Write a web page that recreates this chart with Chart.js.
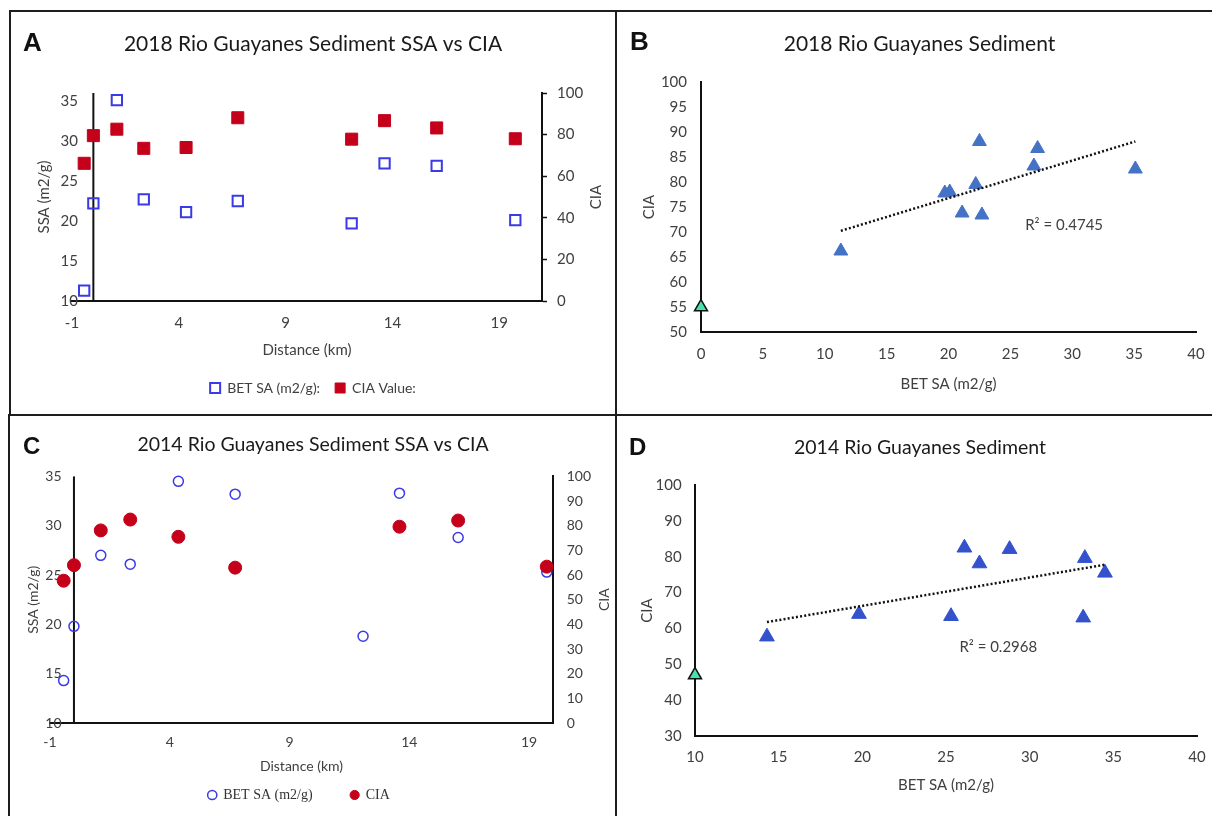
<!DOCTYPE html>
<html>
<head>
<meta charset="utf-8">
<title>Rio Guayanes Sediment SSA vs CIA</title>
<script src="https://cdn.jsdelivr.net/npm/chart.js@4.4.1/dist/chart.umd.min.js"></script>
<style>
  html, body { margin: 0; padding: 0; background: #fff; overflow: hidden; }
  body { width: 1212px; height: 816px; position: relative; }
  .panel { position: absolute; box-sizing: border-box; border: 2px solid #1e1e1e; overflow: hidden; background: #fff; }
  .panel canvas { position: absolute; left: 0; top: 0; }
  .tag { position: absolute; font-family: "Liberation Sans", Arial, sans-serif; font-weight: bold; color: #111; }
</style>
</head>
<body>

<div class="panel" style="left:9px;top:10px;width:608px;height:406px">
  <canvas id="chartA" width="604" height="402"></canvas>
  <div class="tag" style="left:12px;top:17px;font-size:26px;line-height:26px">A</div>
</div>
<div class="panel" style="left:615px;top:10px;width:609px;height:406px">
  <canvas id="chartB" width="605" height="402"></canvas>
  <div class="tag" style="left:13px;top:16px;font-size:26px;line-height:26px">B</div>
</div>
<div class="panel" style="left:8px;top:414px;width:610px;height:404px">
  <canvas id="chartC" width="606" height="400"></canvas>
  <div class="tag" style="left:13px;top:18px;font-size:24px;line-height:24px">C</div>
</div>
<div class="panel" style="left:615px;top:414px;width:610px;height:404px">
  <canvas id="chartD" width="606" height="400"></canvas>
  <div class="tag" style="left:12px;top:19px;font-size:24px;line-height:24px">D</div>
</div>

<script>
// 2018 samples: distance downstream (km), BET surface area (m2/g), CIA
const dist2018 = [-0.43, 0, 1.1, 2.36, 4.34, 6.76, 12.09, 13.63, 16.07, 19.75]
const ssa2018 = [11.3, 22.2, 35.1, 22.7, 21.1, 22.5, 19.7, 27.2, 26.9, 20.1]
const cia2018 = [66.2, 79.5, 82.6, 73.4, 73.8, 88.1, 77.8, 86.7, 83.2, 78.0]

// 2014 samples (no CIA for the 12 km site)
const dist2014 = [-0.43, 0, 1.12, 2.35, 4.36, 6.73, 12.07, 13.59, 16.04, 19.74]
const ssa2014 = [14.3, 19.8, 27.0, 26.1, 34.5, 33.2, 18.8, 33.3, 28.8, 25.3]
const cia2014 = [57.7, 64.0, 78.1, 82.5, 75.5, 63.0, null, 79.6, 82.1, 63.4]

// unweathered reference point (green triangle)
const refSsa2018 = [0]
const refCia2018 = [55]
const refSsa2014 = [10]
const refCia2014 = [47]

// tick labels
const distTicks = [-1, 4, 9, 14, 19]
const ssaTicks = [10, 15, 20, 25, 30, 35]
const ciaTicks = [0, 10, 20, 30, 40, 50, 60, 70, 80, 90, 100]
const betTicks2018 = [0, 5, 10, 15, 20, 25, 30, 35, 40]
const ciaTicks2018 = [50, 55, 60, 65, 70, 75, 80, 85, 90, 95, 100]
const betTicks2014 = [10, 15, 20, 25, 30, 35, 40]
const ciaTicks2014 = [30, 40, 50, 60, 70, 80, 90, 100]

const r2Label2018 = 'R² = 0.4745'
const r2Label2014 = 'R² = 0.2968'

const RED = '#C4001A'
const BLUE = '#3A3AE6'
const TRI_BLUE = '#4472C4'
const TRI_BLUE_2014 = '#3352CC'
const GREEN = '#45E2B2'
const INK = '#111'
const LABEL = '#404040'

Chart.defaults.font.family = 'Lato, "Open Sans", sans-serif'
Chart.defaults.color = LABEL

const pairs = (xs, ys) => xs.map((x, i) => ({ x: x, y: ys[i] })).filter(p => p.y != null)

// least squares line over the plotted points, from min x to max x
function trend(xs, ys) {
    const pts = pairs(xs, ys)
    const n = pts.length
    const mx = pts.reduce((s, p) => s + p.x, 0) / n
    const my = pts.reduce((s, p) => s + p.y, 0) / n
    let sxy = 0, sxx = 0
    pts.forEach(p => { sxy += (p.x - mx) * (p.y - my); sxx += (p.x - mx) * (p.x - mx) })
    const b = sxy / sxx
    const lo = Math.min(...pts.map(p => p.x))
    const hi = Math.max(...pts.map(p => p.x))
    return [{ x: lo, y: my + b * (lo - mx) }, { x: hi, y: my + b * (hi - mx) }]
}

const fixTicks = (list) => (scale) => { scale.ticks = list.map(v => ({ value: v })) }
const fitWidth = (w) => (scale) => { scale.width = w }
const fitHeight = (h) => (scale) => { scale.height = h }

// vertical axis line at x = 0, right axis title read bottom-up, R² note
const extras = {
    id: 'extras',
    beforeDatasetsDraw(chart, args, opts) {
        if (opts.zeroLine === undefined) return
        const { ctx, chartArea, scales } = chart
        const px = scales.x.getPixelForValue(opts.zeroLine)
        ctx.save()
        ctx.strokeStyle = INK
        ctx.lineWidth = 2
        ctx.beginPath()
        ctx.moveTo(px, chartArea.top)
        ctx.lineTo(px, chartArea.bottom)
        ctx.stroke()
        ctx.restore()
    },
    afterDraw(chart, args, opts) {
        const { ctx, chartArea, scales } = chart
        if (opts.rightTitle) {
            const s = scales.y1
            ctx.save()
            ctx.translate(s.right - opts.rightTitle.offset, (chartArea.top + chartArea.bottom) / 2)
            ctx.rotate(-Math.PI / 2)
            ctx.font = opts.rightTitle.size + 'px Lato'
            ctx.fillStyle = LABEL
            ctx.textAlign = 'center'
            ctx.textBaseline = 'middle'
            ctx.fillText(opts.rightTitle.text, 0, 0)
            ctx.restore()
        }
        if (opts.note) {
            const x = scales.x.getPixelForValue(opts.note.x)
            const y = scales.y.getPixelForValue(opts.note.y)
            ctx.save()
            ctx.font = '15px Lato'
            ctx.fillStyle = LABEL
            ctx.textAlign = 'left'
            ctx.textBaseline = 'middle'
            ctx.fillText(opts.note.text, x, y)
            ctx.restore()
        }
    }
}
Chart.register(extras)

const axisLine = { display: true, color: INK, width: 2 }
const noGrid = { display: false, drawTicks: false }
// empty right-hand strip so the chart area stops short of the panel edge
const rightPad = (w) => ({ type: 'linear', position: 'right', display: true, afterFit: fitWidth(w),
                           ticks: { display: false }, grid: noGrid, border: { display: false } })

// A: 2018 SSA and CIA along the river
new Chart(document.getElementById('chartA'), {
    type: 'scatter',
    data: {
        datasets: [
            { label: 'CIA Value:', data: pairs(dist2018, cia2018), yAxisID: 'y1', pointStyle: 'rect',
              pointRadius: 8.5, backgroundColor: RED, borderColor: RED, borderWidth: 1, clip: false },
            { label: 'BET SA (m2/g):', data: pairs(dist2018, ssa2018), yAxisID: 'y', pointStyle: 'rect',
              pointRadius: 7.3, backgroundColor: 'rgba(0,0,0,0)', borderColor: BLUE, borderWidth: 2, clip: false }
        ]
    },
    options: {
        responsive: false, animation: false, events: [],
        layout: { padding: { left: 0, right: 0, top: 0, bottom: 9 } },
        plugins: {
            title: { display: true, text: '2018 Rio Guayanes Sediment SSA vs CIA', color: '#1a1a1a',
                     font: { size: 21, weight: 'normal' }, padding: { top: 20, bottom: 35.8 } },
            legend: { position: 'bottom', reverse: true,
                      labels: { usePointStyle: true, boxWidth: 10, boxHeight: 10, padding: 15, font: { size: 14 } } },
            tooltip: { enabled: false },
            extras: { zeroLine: 0, rightTitle: { text: 'CIA', offset: 19, size: 15 } }
        },
        scales: {
            x: { type: 'linear', min: -1, max: 21, afterBuildTicks: fixTicks(distTicks), afterFit: fitHeight(65),
                 grid: noGrid, border: axisLine, ticks: { padding: 12.7, font: { size: 15 } },
                 title: { display: true, text: 'Distance (km)', font: { size: 15 }, padding: { top: 0, bottom: 7 } } },
            y: { position: 'left', min: 10, max: 36, afterBuildTicks: fixTicks(ssaTicks), afterFit: fitWidth(61),
                 grid: noGrid, border: { display: false },
                 ticks: { mirror: true, crossAlign: 'far', padding: -11.4, font: { size: 15 } },
                 title: { display: true, text: 'SSA (m2/g)', font: { size: 15 }, padding: { top: 24, bottom: 0 } } },
            y1: { position: 'right', min: 0, max: 100, afterBuildTicks: fixTicks(ciaTicks), afterFit: fitWidth(73),
                  grid: { display: true, drawOnChartArea: false, drawTicks: true, tickLength: 5, tickColor: INK, tickWidth: 1.5 },
                  border: axisLine, ticks: { padding: 10, font: { size: 15 } } }
        }
    }
})

// B: 2018 CIA against surface area
new Chart(document.getElementById('chartB'), {
    type: 'scatter',
    data: {
        datasets: [
            { data: trend(ssa2018, cia2018), showLine: true, pointRadius: 0, borderColor: INK, borderWidth: 2.5,
              borderDash: [2, 2.2], clip: false },
            { data: pairs(ssa2018, cia2018), pointStyle: 'triangle', pointRadius: 8,
              backgroundColor: TRI_BLUE, borderColor: TRI_BLUE, borderWidth: 1, clip: false },
            { data: pairs(refSsa2018, refCia2018), pointStyle: 'triangle', pointRadius: 7.5,
              backgroundColor: GREEN, borderColor: INK, borderWidth: 1.5, clip: false }
        ]
    },
    options: {
        responsive: false, animation: false, events: [],
        layout: { padding: 0 },
        plugins: {
            title: { display: true, text: '2018 Rio Guayanes Sediment', color: '#1a1a1a',
                     font: { size: 21, weight: 'normal' }, padding: { top: 20, bottom: 24.8 } },
            legend: { display: false },
            tooltip: { enabled: false },
            extras: { note: { text: r2Label2018, x: 26.2, y: 71.3 } }
        },
        scales: {
            x: { type: 'linear', min: 0, max: 40, afterBuildTicks: fixTicks(betTicks2018), afterFit: fitHeight(82),
                 grid: noGrid, border: axisLine, ticks: { padding: 13, font: { size: 15 } },
                 title: { display: true, text: 'BET SA (m2/g)', font: { size: 15 }, padding: { top: 0, bottom: 21 } } },
            y: { min: 50, max: 100, afterBuildTicks: fixTicks(ciaTicks2018), afterFit: fitWidth(84),
                 grid: noGrid, border: axisLine, ticks: { padding: 14, font: { size: 15 } },
                 title: { display: true, text: 'CIA', font: { size: 15 }, padding: { top: 23, bottom: 0 } } },
            yPad: rightPad(26)
        }
    }
})

// C: 2014 SSA and CIA along the river
// (em spaces after the labels widen the gap between legend items and pull the row left)
new Chart(document.getElementById('chartC'), {
    type: 'scatter',
    data: {
        datasets: [
            { label: 'CIA\u2003\u2003', data: pairs(dist2014, cia2014), yAxisID: 'y1', pointStyle: 'circle',
              pointRadius: 6.5, backgroundColor: RED, borderColor: RED, borderWidth: 1, clip: false },
            { label: 'BET SA (m2/g)\u2003\u2003', data: pairs(dist2014, ssa2014), yAxisID: 'y', pointStyle: 'circle',
              pointRadius: 5, backgroundColor: 'rgba(0,0,0,0)', borderColor: BLUE, borderWidth: 1.5, clip: false }
        ]
    },
    options: {
        responsive: false, animation: false, events: [],
        layout: { padding: { left: 0, right: 0, top: 0, bottom: 4 } },
        plugins: {
            title: { display: true, text: '2014 Rio Guayanes Sediment SSA vs CIA', color: '#1a1a1a',
                     font: { size: 19.5, weight: 'normal' }, padding: { top: 17, bottom: 20 } },
            legend: { position: 'bottom', reverse: true,
                      labels: { usePointStyle: true, boxWidth: 8, boxHeight: 6.5, padding: 10, color: '#333',
                                font: { size: 14, family: '"Liberation Serif", "Times New Roman", serif' } } },
            tooltip: { enabled: false },
            extras: { zeroLine: 0, rightTitle: { text: 'CIA', offset: 12, size: 14 } }
        },
        scales: {
            x: { type: 'linear', min: -1, max: 20, afterBuildTicks: fixTicks(distTicks), afterFit: fitHeight(55),
                 grid: noGrid, border: axisLine, ticks: { padding: 11.3, font: { size: 14 } },
                 title: { display: true, text: 'Distance (km)', font: { size: 14 }, padding: { top: 0, bottom: 2.9 } } },
            y: { position: 'left', min: 10, max: 35, afterBuildTicks: fixTicks(ssaTicks), afterFit: fitWidth(40),
                 grid: noGrid, border: { display: false },
                 ticks: { mirror: true, crossAlign: 'far', padding: -4.7, font: { size: 14 } },
                 title: { display: true, text: 'SSA (m2/g)', font: { size: 14 }, padding: { top: 14.6, bottom: 0 } } },
            y1: { position: 'right', min: 0, max: 100, afterBuildTicks: fixTicks(ciaTicks), afterFit: fitWidth(63),
                  grid: noGrid, border: axisLine, ticks: { padding: 13.7, font: { size: 14 } } }
        }
    }
})

// D: 2014 CIA against surface area
new Chart(document.getElementById('chartD'), {
    type: 'scatter',
    data: {
        datasets: [
            { data: trend(ssa2014, cia2014), showLine: true, pointRadius: 0, borderColor: INK, borderWidth: 2.5,
              borderDash: [2, 2.2], clip: false },
            { data: pairs(ssa2014, cia2014), pointStyle: 'triangle', pointRadius: 8.5,
              backgroundColor: TRI_BLUE_2014, borderColor: TRI_BLUE_2014, borderWidth: 1, clip: false },
            { data: pairs(refSsa2014, refCia2014), pointStyle: 'triangle', pointRadius: 7.5,
              backgroundColor: GREEN, borderColor: INK, borderWidth: 1.5, clip: false }
        ]
    },
    options: {
        responsive: false, animation: false, events: [],
        layout: { padding: 0 },
        plugins: {
            title: { display: true, text: '2014 Rio Guayanes Sediment', color: '#1a1a1a',
                     font: { size: 19.5, weight: 'normal' }, padding: { top: 20, bottom: 25.6 } },
            legend: { display: false },
            tooltip: { enabled: false },
            extras: { note: { text: r2Label2014, x: 25.8, y: 54.7 } }
        },
        scales: {
            x: { type: 'linear', min: 10, max: 40, afterBuildTicks: fixTicks(betTicks2014), afterFit: fitHeight(80),
                 grid: noGrid, border: axisLine, ticks: { padding: 12.3, font: { size: 15 } },
                 title: { display: true, text: 'BET SA (m2/g)', font: { size: 15 }, padding: { top: 0, bottom: 22 } } },
            y: { min: 30, max: 100, afterBuildTicks: fixTicks(ciaTicks2014), afterFit: fitWidth(78),
                 grid: noGrid, border: axisLine, ticks: { padding: 13.4, font: { size: 15 } },
                 title: { display: true, text: 'CIA', font: { size: 15 }, padding: { top: 21, bottom: 0 } } },
            yPad: rightPad(26)
        }
    }
})
</script>
</body>
</html>
